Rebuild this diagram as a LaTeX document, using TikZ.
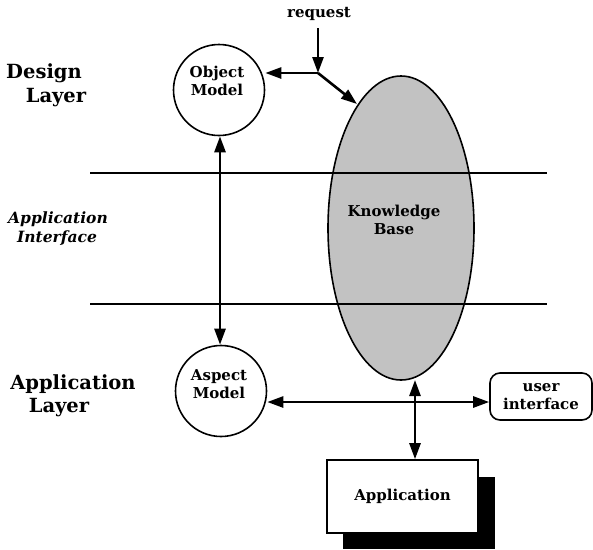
\documentclass[tikz,border=0pt]{standalone}
\usepackage{fontspec}
\setmainfont{DejaVu Serif}
\usetikzlibrary{arrows.meta,shapes.geometric}
\tikzset{
  x=1pt, y=-1pt,
  small/.style={font=\fontsize{15}{18.5}\selectfont\bfseries, align=center, inner sep=0pt},
  big/.style={font=\fontsize{19.5}{23}\selectfont\bfseries, inner sep=0pt},
  ital/.style={font=\fontsize{15.5}{19}\selectfont\bfseries\itshape, inner sep=0pt},
  circ/.style={draw, line width=1.6pt, circle, minimum size=91pt, inner sep=0pt},
  conn/.style={line width=2.6pt},
  tip/.style={-{Triangle[length=16pt,width=11pt]}},
  both/.style={{Triangle[length=16pt,width=11pt]}-{Triangle[length=16pt,width=11pt]}},
  layerline/.style={line width=1.4pt}
}
\begin{document}
\begin{tikzpicture}
\useasboundingbox (0,0) rectangle (593,549);
% layer lines
\coordinate (l1a) at (90,173); \coordinate (l1b) at (547,173);
\coordinate (l2a) at (90,304); \coordinate (l2b) at (547,304);
% knowledge base ellipse
\node[draw, line width=1.6pt, ellipse, fill=black!24, minimum width=146pt, minimum height=304pt, inner sep=0pt] (kb) at (401,228) {};
\draw[layerline] (l1a) -- (l1b);
\draw[layerline] (l2a) -- (l2b);
\node[small] (kbt) at (394,220) {Knowledge\\Base};
% circles
\node[circ] (om) at (219,90) {};
\node[small] (omt) at (217,81) {Object\\Model};
\node[circ] (am) at (221,391) {};
\node[small] (amt) at (219,384) {Aspect\\Model};
% user interface
\node[draw, line width=1.6pt, rounded corners=10pt, minimum width=102pt, minimum height=47pt, small] (ui) at (541,396.5) {user\\interface};
% application with shadow
\fill (343,477) rectangle (495,549);
\node[draw, line width=1.6pt, fill=white, minimum width=151pt, minimum height=73pt, small] (app) at (402.5,496.5) {Application};
% request
\node[small] (req) at (319,14) {request};
\coordinate (reqs) at (318,28);
\coordinate (j) at (318,73);
\draw[conn, tip] (reqs) -- (j);
\draw[conn, tip] (j) -- (om.east |- j);
\draw[conn, tip] (j) -- (357,104);
% vertical between circles
\draw[conn, both] (om.south -| 220,0) -- (am.north -| 220,0);
% horizontal arrow
\coordinate (h1) at (am.east |- 0,402);
\coordinate (h2) at (ui.west |- 0,402);
\draw[conn, both] (h1) -- (h2);
% vertical app - kb
\draw[conn, both] (415,380) -- (app.north -| 415,0);
% labels
\node[big, anchor=base] (d1) at (44,78) {Design};
\node[big, anchor=base] (d2) at (56,102) {Layer};
\node[ital, anchor=base] (ai1) at (58,223) {Application};
\node[ital, anchor=base] (ai2) at (57,242) {Interface};
\node[big, anchor=base] (al1) at (73,389) {Application};
\node[big, anchor=base] (al2) at (59,412) {Layer};
\end{tikzpicture}
\end{document}
